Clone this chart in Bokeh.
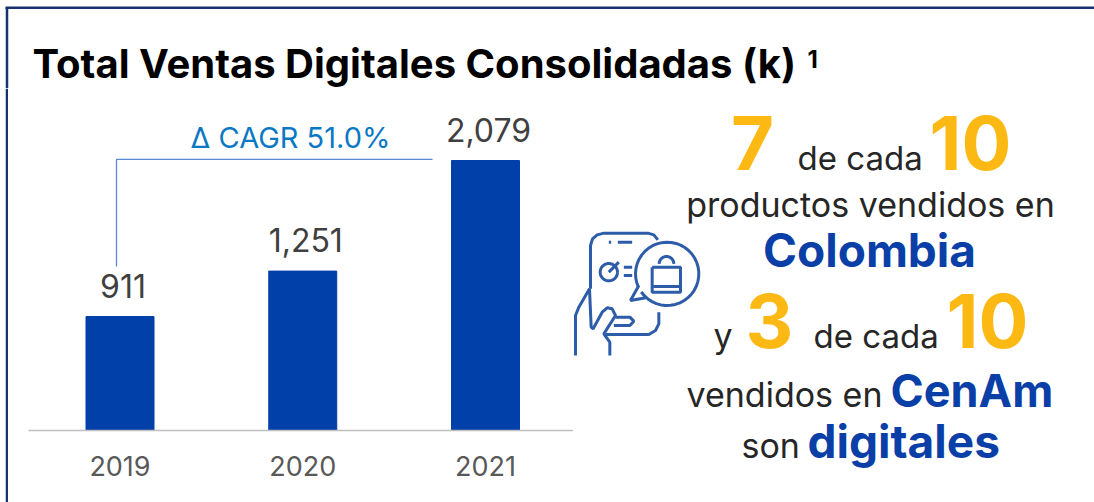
import math
from bokeh.embed import file_html
from bokeh.resources import INLINE
from bokeh.plotting import figure
from bokeh.layouts import column, row
from bokeh.models import Label, ColumnDataSource, Range1d, FixedTicker
from bokeh.core.properties import value

years = ["2019", "2020", "2021"]
sales = [911, 1251, 2079]
sales_labels = ["911", "1,251", "2,079"]
positions = [0, 1, 2]
axis_floor = 57.6
FONT = "Inter"
BLUE = "#0040A8"
TEXTBLUE = "#0A3FA8"
ORANGE = "#FDB913"
ICON = "#2D5CA8"
FRAME = "#17336F"

W, H = 1094, 502
TOP = 88
STRIP = 8
SPLIT = 573
BASE = 0.37
axis_top = axis_floor + (430 - TOP) * 7.487


def panel(w, h, x0, y0):
    f = figure(width=w, height=h, x_range=Range1d(x0, x0 + w), y_range=Range1d(y0 + h, y0),
               output_backend="svg", toolbar_location=None, min_border=0, frame_align=False)
    f.outline_line_color = None
    f.grid.visible = False
    f.axis.visible = False
    return f


def txt(f, s, x, y, size, color="#262626", bold=False, align="left"):
    f.add_layout(Label(x=x, y=y, y_offset=BASE * size, text=s, text_font=FONT, text_font_size=f"{size}px",
                       text_color=color, text_font_style="bold" if bold else "normal",
                       text_align=align, text_baseline="alphabetic"))


head = panel(W, TOP, 0, 0)
head.line([6.5, 6.5], [7, TOP], line_color=FRAME, line_width=2.5)
head.line([5, W], [7.2, 7.2], line_color=FRAME, line_width=2.5)
txt(head, "Total Ventas Digitales Consolidadas (k)", 32, 78, 40, "#000000", True)
txt(head, "1", 807, 67, 24, "#000000", True)

strip = panel(STRIP, H - TOP, 0, TOP)
strip.line([6.5, 6.5], [TOP, H], line_color=FRAME, line_width=2.5)

# chart
sp = 182.75
c = figure(width=SPLIT - STRIP, height=H - TOP, x_range=Range1d((28 - 119.5) / sp, (SPLIT - 119.5) / sp),
           y_range=Range1d(axis_floor, axis_top), output_backend="svg", toolbar_location=None,
           min_border_left=28 - STRIP, min_border_right=0, min_border_top=0, min_border_bottom=72,
           frame_align=False)
c.outline_line_color = None
c.grid.visible = False
c.yaxis.visible = False
ax = c.xaxis[0]
ax.ticker = FixedTicker(ticks=positions)
ax.major_label_overrides = {i: y for i, y in zip(positions, years)}
ax.axis_line_color = "#BFBFBF"
ax.axis_line_width = 1.5
ax.major_tick_line_color = None
ax.minor_tick_line_color = None
ax.major_label_text_font = FONT
ax.major_label_text_font_size = "27px"
ax.major_label_text_color = "#595959"
ax.major_label_standoff = 19

src = ColumnDataSource(dict(x=positions, top=sales, lab=sales_labels))
c.vbar(x="x", top="top", bottom=axis_floor, width=68 / sp, color=BLUE, source=src)
c.text(x="x", y="top", text="lab", source=src, text_font=value(FONT), text_font_size="32px",
       text_color="#404040", text_align="center", text_baseline="alphabetic", y_offset=-31, x_offset=3)
c.line([-0.0191, -0.0191, 1.7102], [1285, 2087, 2087], line_color="#5B86D0", line_width=1.3)
txt(c, "Δ CAGR 51.0%", 0.933, 2169, 29, "#0B78C4", align="center")

# right panel
r = panel(W - SPLIT, H - TOP, SPLIT, TOP)
txt(r, "7", 752, 170, 74, ORANGE, True, "center")
txt(r, "de cada", 797, 170, 33)
txt(r, "10", 970, 170, 74, ORANGE, True, "center")
txt(r, "productos vendidos en", 870, 217, 34, align="center")
txt(r, "Colombia", 869, 267, 46, TEXTBLUE, True, "center")
txt(r, "y", 713, 348, 34)
txt(r, "3", 769, 348, 74, ORANGE, True, "center")
txt(r, "de cada", 813, 348, 33)
txt(r, "10", 987, 348, 74, ORANGE, True, "center")
txt(r, "vendidos en", 686, 407, 34)
txt(r, "CenAm", 890, 407, 45, TEXTBLUE, True)
txt(r, "son", 741, 458, 34)
txt(r, "digitales", 807, 458, 46, TEXTBLUE, True)


def arc(cx, cy, rad, a0, a1, n=40):
    return [(cx + rad * math.cos(math.radians(a0 + (a1 - a0) * i / n)),
             cy + rad * math.sin(math.radians(a0 + (a1 - a0) * i / n))) for i in range(n + 1)]


for path in [
    [(60, 205), (60, 75), (66, 55), (80, 43), (100, 38), (232, 38), (250, 43), (262, 58)],
    [(115, 65), (122, 65)], [(142, 65), (185, 65)],
    arc(115, 155, 26, 0, 360),
    [(115, 155), (145, 125)],
    [(160, 140), (185, 140)], [(160, 165), (185, 165)],
    arc(290, 160, 95, -205, 145),
    [(205, 195), (180, 240), (226, 232)],
    [(245, 140), (330, 140), (330, 215), (245, 215), (245, 140)],
    [(248, 198), (328, 198)],
    arc(288, 130, 22, 180, 360),
    [(265, 275), (265, 310), (255, 330), (235, 342), (105, 342)],
    [(15, 405), (15, 285), (25, 260), (57, 205), (62, 320), (68, 325), (95, 275), (110, 262), (125, 265),
     (135, 285), (100, 340), (118, 365), (118, 405)],
    [(135, 290), (178, 290), (190, 302), (178, 315), (130, 315)],
]:
    r.line([570 + a / 3 for a, b in path], [220 + b / 3 for a, b in path], line_color=ICON, line_width=3)

page = column(head, row(strip, c, r, spacing=0), spacing=0)
open("out.html", "w").write(file_html(page, INLINE))
